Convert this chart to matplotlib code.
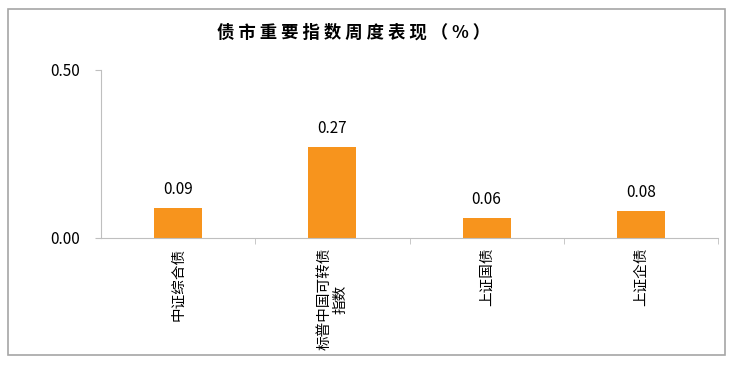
import matplotlib.pyplot as plt
from matplotlib.patches import Rectangle

plt.rcParams['font.family'] = ['Noto Sans CJK SC', 'DejaVu Sans']

categories = ['中证综合债', '标普中国可转债\n指数', '上证国债', '上证企债']
values = [0.09, 0.27, 0.06, 0.08]
yticks = [0.0, 0.5]
ytick_labels = ['0.00', '0.50']
title = '债市重要指数周度表现（%）'

fig = plt.figure(figsize=(7.32, 3.66), dpi=100)
ax = fig.add_axes([101 / 732, 1 - 238 / 366, 617 / 732, 168 / 366])

# outer frame around the whole chart
fig.patches.append(Rectangle((8 / 732, 11 / 366), 717 / 732, 346 / 366,
                             transform=fig.transFigure, fill=False,
                             edgecolor='#a6a6a6', linewidth=1.2))

x = range(len(categories))
ax.bar(x, values, width=0.31, color='#f7941d')
for xi, v in zip(x, values):
    ax.text(xi, v + 0.03, f'{v:.2f}', ha='center', va='bottom', fontsize=11)

ax.set_xlim(-0.5, len(categories) - 0.5)
ax.set_ylim(0, 0.5)
ax.set_yticks(yticks)
ax.set_yticklabels(ytick_labels, fontsize=11)

ax.set_xticks(list(x))
ax.set_xticklabels(categories, rotation=90, fontsize=10.5,
                   ha='center', va='top', multialignment='center',
                   linespacing=1.2)
ax.tick_params(axis='x', length=0, pad=7)
ax.set_xticks([i + 0.5 for i in x], minor=True)
ax.tick_params(axis='x', which='minor', length=4, color='#bfbfbf')
ax.tick_params(axis='y', length=4, color='#bfbfbf', pad=11)

for side in ['top', 'right']:
    ax.spines[side].set_visible(False)
for side in ['left', 'bottom']:
    ax.spines[side].set_color('#bfbfbf')

# loose letter spacing in the title, like the original
fig.text(354 / 732, 1 - 33 / 366, ' '.join(title), ha='center', va='center',
         fontsize=12.5, fontweight='bold')

fig.savefig('out.png', dpi=100)
